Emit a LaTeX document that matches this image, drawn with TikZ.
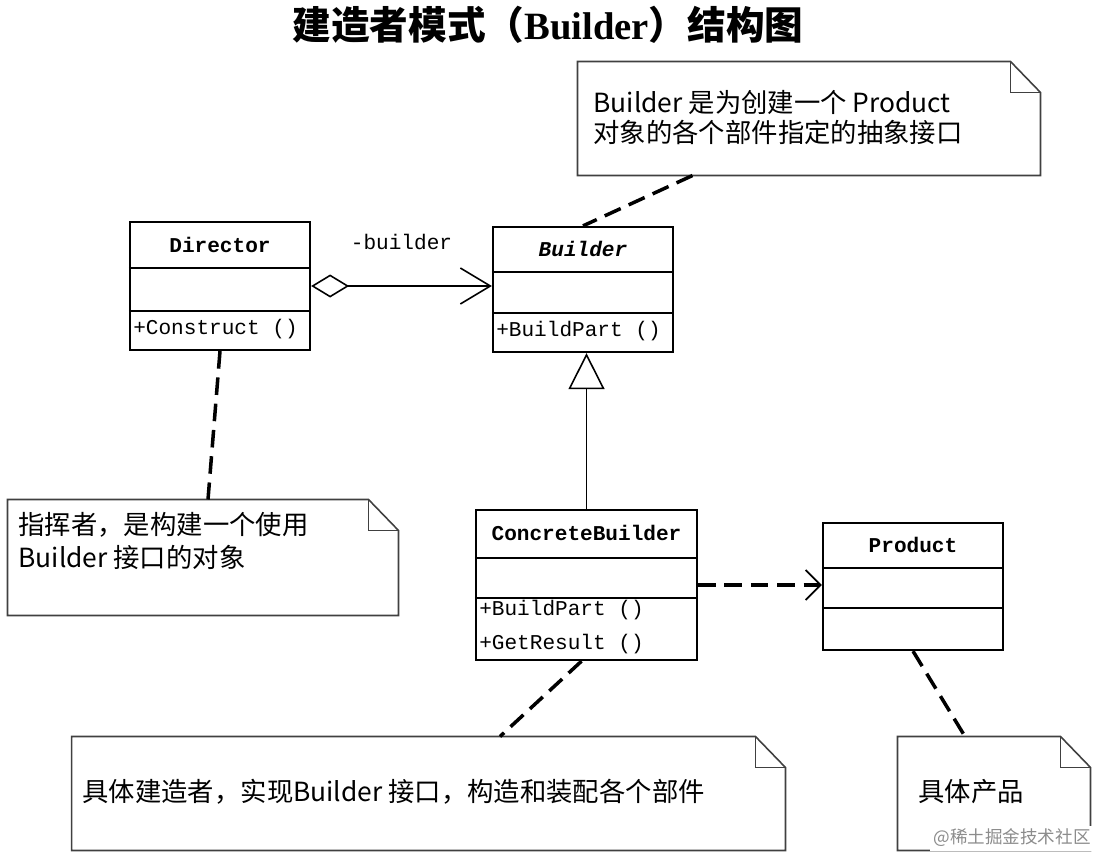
\documentclass[tikz,border=0pt]{standalone}
\usepackage{fontspec}
\setmonofont{Liberation Mono}
\newfontfamily\cjk{Noto Sans CJK SC}
\newfontfamily\titlelatin{Liberation Serif}
\usetikzlibrary{arrows.meta, positioning}

\begin{document}
\begin{tikzpicture}[x=0.02cm, y=-0.02cm, semithick]
  \tikzstyle{classbox} = [draw, line width=1.3pt, rectangle, inner sep=0pt];
  \tikzstyle{classname} = [inner sep=1pt, font={\ttfamily\bfseries\fontsize{12}{14}\selectfont}];
  \tikzstyle{member} = [anchor=west, inner sep=1pt, font={\ttfamily\fontsize{12}{14}\selectfont}];
  \tikzstyle{notebox} = [rectangle, inner sep=0pt];
  \tikzstyle{noteline} = [draw=black!75, line width=0.9pt, line join=miter];
  \tikzstyle{notetext} = [anchor=west, inner sep=0pt, font={\cjk\fontsize{15}{18}\selectfont}];
  \tikzstyle{notelink} = [line width=2pt, dash pattern=on 10pt off 5pt];
  \tikzstyle{edgeLabel} = [font={\ttfamily\fontsize{12}{14}\selectfont}];

  \useasboundingbox (0,0) rectangle (1097,856);

  \node (title) at (548,25) {\cjk\bfseries\fontsize{22}{26}\selectfont 建造者模式（{\titlelatin Builder}）结构图};

  % classes
  \node[classbox, minimum width=3.6cm, minimum height=2.56cm] (dir) at (220,286) {};
  \node[classname] (dirname) at (220,245) {Director};
  \node[member] (dirop) at (131,329) {+Construct ()};

  \node[classbox, minimum width=3.6cm, minimum height=2.5cm] (bld) at (583,289.5) {};
  \node[classname] (bldname) at (583,249) {\itshape Builder};
  \node[member] (bldop) at (494,331) {+BuildPart ()};

  \node[classbox, minimum width=4.42cm, minimum height=3cm] (cb) at (586.5,585) {};
  \node[classname] (cbname) at (586.5,533) {ConcreteBuilder};
  \node[member] (cbop1) at (477,610) {+BuildPart ()};
  \node[member] (cbop2) at (477,644) {+GetResult ()};

  \node[classbox, minimum width=3.6cm, minimum height=2.54cm] (prod) at (913,586.5) {};
  \node[classname] (prodname) at (913,545) {Product};

  \foreach \cls/\ya/\yb in {dir/268/311, bld/272/313, cb/558/598, prod/568/608}
    \draw[line width=1.3pt] (\cls.west |- 0,\ya) -- (\cls.east |- 0,\ya)
      (\cls.west |- 0,\yb) -- (\cls.east |- 0,\yb);

  % relations
  \draw[line width=0.9pt, {Diamond[open, length=0.76cm, width=0.46cm]}-{Straight Barb[length=0.6cm, width=0.72cm]}]
    (dir.east) -- node[edgeLabel, above=0.6cm] {-builder} (dir.east -| bld.west);
  \draw[line width=0.9pt, -{Triangle[open, length=0.72cm, width=0.72cm, fill=white]}]
    (cb.north) -- (cb.north |- bld.south);
  \draw[notelink, -{Straight Barb[length=0.3cm, width=0.6cm, line width=1pt]}]
    (cb.east) -- (cb.east -| prod.west);

  % notes
  \node[notebox, minimum width=9.24cm, minimum height=2.26cm] (nb) at (809,118.5) {};
  \node[notebox, minimum width=7.8cm, minimum height=2.3cm] (nd) at (203,557.5) {};
  \node[notebox, minimum width=14.26cm, minimum height=2.26cm] (ncb) at (428.5,793.5) {};
  \node[notebox, minimum width=3.84cm, minimum height=2.26cm] (np) at (994,793.5) {};
  \foreach \n in {nb, nd, ncb, np} {
    \draw[noteline] (\n.north west) -- ([xshift=-0.6cm]\n.north east) -- ([yshift=-0.62cm]\n.north east)
      -- (\n.south east) -- (\n.south west) -- cycle;
    \draw[noteline] ([xshift=-0.6cm]\n.north east) |- ([yshift=-0.62cm]\n.north east);
  }

  \node[notetext] (nbt1) at (593,102) {Builder 是为创建一个 Product};
  \node[notetext] (nbt2) at (593,132) {对象的各个部件指定的抽象接口};
  \node[notetext] (ndt1) at (18,525) {指挥者，是构建一个使用};
  \node[notetext] (ndt2) at (18,557) {Builder 接口的对象};
  \node[notetext] (ncbt) at (82,792) {具体建造者，实现Builder 接口，构造和装配各个部件};
  \node[notetext] (npt) at (918,792) {具体产品};

  \draw[notelink] ([xshift=2.3cm]nb.south west) -- (bld.north);
  \draw[notelink] (dir.south) -- ([xshift=0.1cm]nd.north);
  \draw[notelink] ([xshift=-0.1cm]cb.south) -- ([xshift=1.43cm]ncb.north);
  \draw[notelink] (prod.south) -- ([xshift=-0.58cm]np.north);

  \node[fill=white, inner sep=2pt, text=black!45, font={\cjk\fontsize{10}{12}\selectfont}] (wm) at (1012,838) {@稀土掘金技术社区};
\end{tikzpicture}
\end{document}
